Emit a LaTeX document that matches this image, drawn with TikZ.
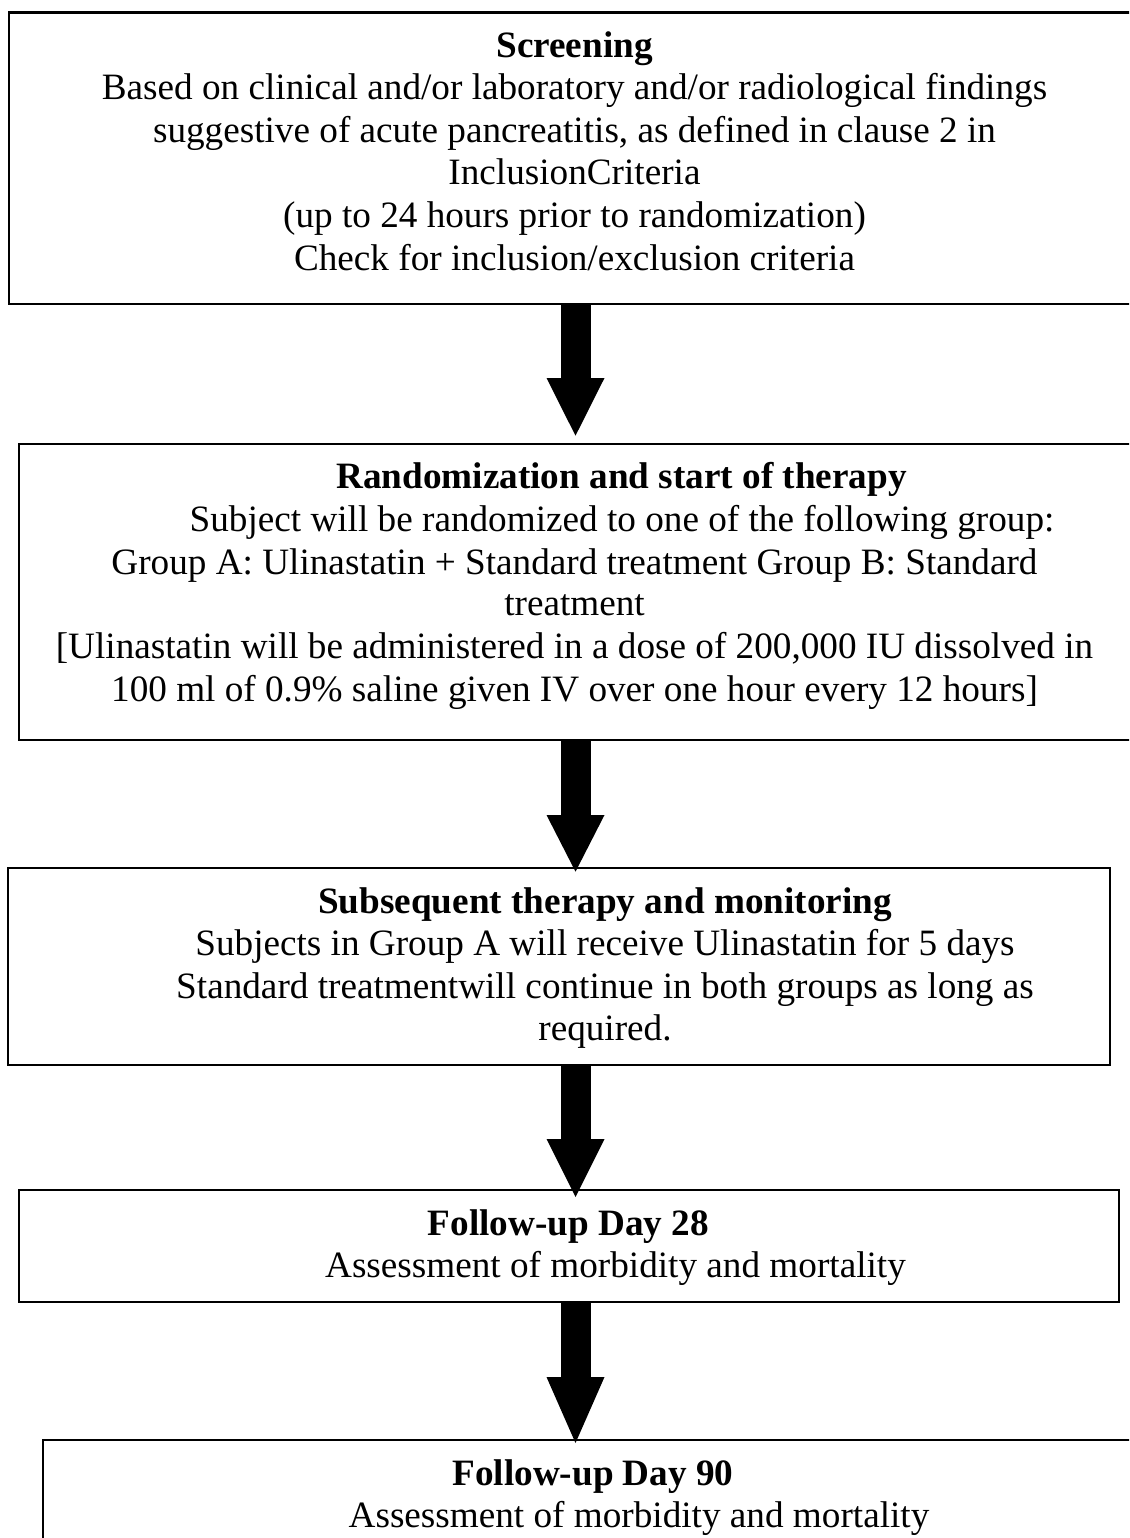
\documentclass[tikz,border=0pt]{standalone}
\usepackage{fontspec}
\setmainfont{Liberation Serif}
\usetikzlibrary{arrows.meta}
\tikzset{
  flowbox/.style={draw=black, line width=2.2pt, rectangle, inner sep=0pt, anchor=north west},
  txt/.style={anchor=base, inner sep=0pt, font=\fontsize{37.2}{42.6}\selectfont},
  hd/.style={txt, font=\fontsize{37.2}{42.6}\selectfont\bfseries},
  bigarrow/.style={line width=30pt, draw=black,
    -{Triangle[length=#1, width=58pt, line width=0pt]}},
  bigarrow/.default=57.7pt
}
\begin{document}
\begin{tikzpicture}[x=1pt, y=-1pt]
\useasboundingbox (0,0) rectangle (1129,1538);
\clip (0,0) rectangle (1129,1538);
\fill[white] (0,0) rectangle (1129,1538);
\coordinate (axis) at (575.5,0);

% boxes
\node[flowbox, minimum width=1132.5pt, minimum height=291pt] (b1) at (7.5,11.5) {};
\node[flowbox, minimum width=1122pt, minimum height=296.5pt] (b2) at (18,442.5) {};
\node[flowbox, minimum width=1102pt, minimum height=197pt] (b3) at (7,867) {};
\node[flowbox, minimum width=1100pt, minimum height=111.5pt] (b4) at (18,1189) {};
\node[flowbox, minimum width=1100pt, minimum height=130pt] (b5) at (42,1438.5) {};

% box 1 text
\node[hd]  (t11) at (574.5,57.5)  {Screening};
\node[txt] (t12) at (574.5,100)   {Based on clinical and/or laboratory and/or radiological findings};
\node[txt] (t13) at (574.5,142.5) {suggestive of acute pancreatitis, as defined in clause 2 in};
\node[txt] (t14) at (574.5,185)   {InclusionCriteria};
\node[txt] (t15) at (574.5,228)   {(up to 24 hours prior to randomization)};
\node[txt] (t16) at (574.5,270.5) {Check for inclusion/exclusion criteria};

% box 2 text
\node[hd]  (t21) at (621.5,488)   {Randomization and start of therapy};
\node[txt] (t22) at (622,531)     {Subject will be randomized to one of the following group:};
\node[txt] (t23) at (574.5,574)   {Group A: Ulinastatin + Standard treatment Group B: Standard};
\node[txt] (t24) at (574.5,615.5) {treatment};
\node[txt] (t25) at (574.5,658)   {[Ulinastatin will be administered in a dose of 200,000 IU dissolved in};
\node[txt] (t26) at (574.5,701)   {100 ml of 0.9\% saline given IV over one hour every 12 hours]};

% box 3 text
\node[hd]  (t31) at (605,913)     {Subsequent therapy and monitoring};
\node[txt] (t32) at (605,955.5)   {Subjects in Group A will receive Ulinastatin for 5 days};
\node[txt] (t33) at (605,998)     {Standard treatmentwill continue in both groups as long as};
\node[txt] (t34) at (605,1040.5)  {required.};

% box 4 text
\node[hd]  (t41) at (568.5,1235)  {Follow-up Day 28};
\node[txt] (t42) at (615.5,1277)  {Assessment of morbidity and mortality};

% box 5 text
\node[hd]  (t51) at (593,1485)    {Follow-up Day 90};
\node[txt] (t52) at (639,1527)    {Assessment of morbidity and mortality};

% arrows
\draw[bigarrow, shorten >=6.8pt] (b1.south -| axis) -- (b2.north -| axis);
\draw[bigarrow=56.7pt, shorten >=-4.7pt] (b2.south -| axis) -- (b3.north -| axis);
\draw[bigarrow=58pt, shorten >=-8pt] (b3.south -| axis) -- (b4.north -| axis);
\draw[bigarrow=66pt, shorten >=-4.5pt] (b4.south -| axis) -- (b5.north -| axis);
\end{tikzpicture}
\end{document}
